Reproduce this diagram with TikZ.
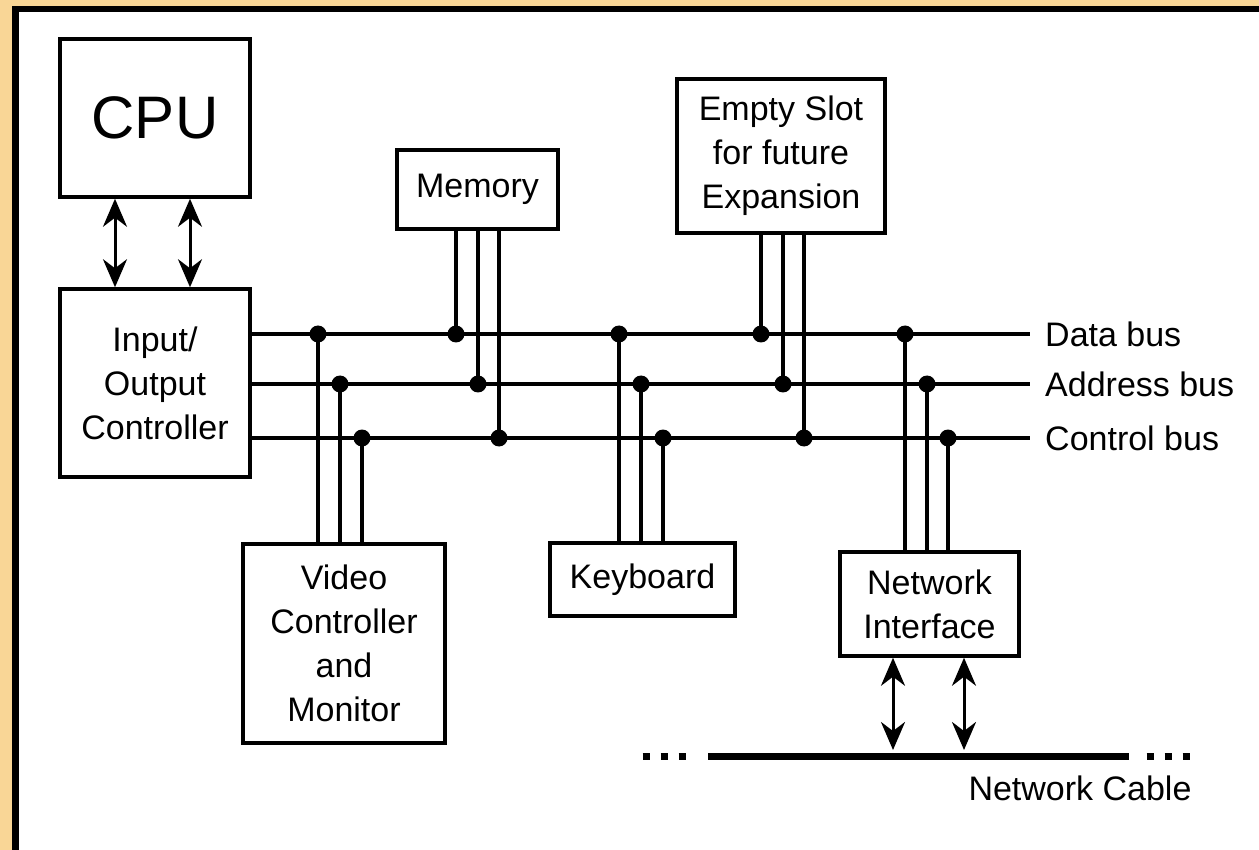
\documentclass[tikz,border=0pt]{standalone}
\usepackage{fontspec}
\setmainfont{Liberation Sans}
\usetikzlibrary{arrows.meta}

\definecolor{frame}{RGB}{249,214,150}

\tikzset{
  unit/.style={draw, line width=3.5pt, fill=white, inner sep=0pt, align=center,
    font=\fontsize{34}{44}\selectfont},
  bus/.style={line width=3.5pt},
  tap/.style={circle, fill, inner sep=0pt, minimum size=17pt},
  link/.style={line width=3pt,
    {Stealth[length=28pt,width=24pt,inset=9pt]}-{Stealth[length=28pt,width=24pt,inset=9pt]}},
  buslabel/.style={anchor=west, inner sep=0pt, font=\fontsize{34}{40}\selectfont}
}

\begin{document}
\begin{tikzpicture}[x=1pt,y=-1pt]

\useasboundingbox (0,0) rectangle (1259,850);

% page frame
\fill[frame] (0,0) rectangle (1259,850);
\fill[black] (12,6) rectangle (1259,850);
\fill[white] (19,12) rectangle (1259,850);

% boxes
\node[unit, minimum width=190pt, minimum height=158pt,
      font=\fontsize{60}{60}\selectfont] (cpu) at (155,118) {CPU};
\node[unit, minimum width=190pt, minimum height=188pt] (io) at (155,383)
  {Input/\\Output\\Controller};
\node[unit, minimum width=161pt, minimum height=79pt] (mem) at (477.5,189.5) {Memory};
\node[unit, minimum width=208pt, minimum height=154pt] (slot) at (781,156)
  {Empty Slot\\for future\\Expansion};
\node[unit, minimum width=202pt, minimum height=199pt] (video) at (344,643.5)
  {Video\\Controller\\and\\Monitor};
\node[unit, minimum width=185pt, minimum height=73pt] (kbd) at (642.5,579.5) {Keyboard};
\node[unit, minimum width=179pt, minimum height=104pt] (net) at (929.5,604) {Network\\Interface};

% the three buses
\coordinate (dataR) at (1030,334);
\coordinate (addrR) at (1030,384);
\coordinate (ctrlR) at (1030,438);
\draw[bus] (io.east |- dataR) -- (dataR);
\draw[bus] (io.east |- addrR) -- (addrR);
\draw[bus] (io.east |- ctrlR) -- (ctrlR);
\node[buslabel] (datal) at ([xshift=15pt]dataR) {Data bus};
\node[buslabel] (addrl) at ([xshift=15pt]addrR) {Address bus};
\node[buslabel] (ctrll) at ([xshift=15pt]ctrlR) {Control bus};

% taps from each unit onto data / address / control
\foreach \bx/\side/\xd/\xa/\xc in {video/north/318/340/362, mem/south/456/478/499,
    kbd/north/619/641/663, slot/south/761/783/804, net/north/905/927/948}{
  \coordinate (d) at (\xd,334);
  \coordinate (a) at (\xa,384);
  \coordinate (c) at (\xc,438);
  \draw[bus] (\bx.\side -| d) -- (d);
  \draw[bus] (\bx.\side -| a) -- (a);
  \draw[bus] (\bx.\side -| c) -- (c);
  \node[tap] at (d) {};
  \node[tap] at (a) {};
  \node[tap] at (c) {};
}

% cpu <-> io
\draw[link] ([xshift=-40pt]cpu.south) -- ([xshift=-40pt]io.north);
\draw[link] ([xshift=35pt]cpu.south) -- ([xshift=35pt]io.north);

% network cable
\coordinate (cableL) at (708,756);
\coordinate (cableR) at (1129,756);
\draw[line width=7pt] (cableL) -- (cableR);
\draw[line width=7pt, dash pattern=on 7pt off 11pt] (642.5,756) -- (689.5,756);
\draw[line width=7pt, dash pattern=on 7pt off 11pt] (1146.5,756) -- (1193.5,756);
\node[inner sep=0pt, font=\fontsize{34}{40}\selectfont] (cable) at (1080,788) {Network Cable};

\draw[link, shorten >=6pt] ([xshift=-36.5pt]net.south) -- ([xshift=-36.5pt]net.south |- cableL);
\draw[link, shorten >=6pt] ([xshift=34.5pt]net.south) -- ([xshift=34.5pt]net.south |- cableL);

\end{tikzpicture}
\end{document}
